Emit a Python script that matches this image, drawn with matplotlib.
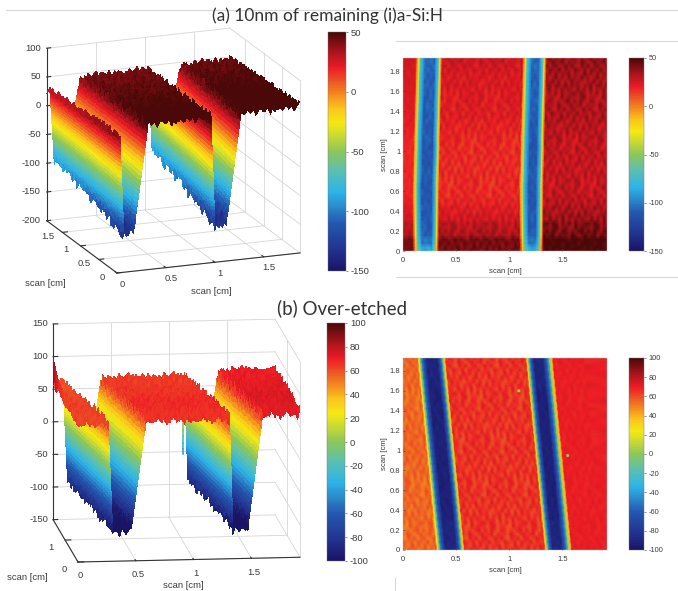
import numpy as np
import matplotlib
matplotlib.use("Agg")
import matplotlib.pyplot as plt
from matplotlib.cm import ScalarMappable
from matplotlib.colors import LinearSegmentedColormap, Normalize
from matplotlib.lines import Line2D
from mpl_toolkits.mplot3d import proj3d

W, H = 678, 591
plt.rcParams["font.family"] = ["Liberation Sans", "DejaVu Sans"]
plt.rcParams["axes.unicode_minus"] = False

# colours, position 0..1 from the bottom
cmap_stops = [(0.0, "#1a1464"), (0.08, "#22308c"), (0.2, "#2458b0"), (0.27, "#2a8ccc"),
              (0.33, "#2cb4e8"), (0.42, "#5cc0b0"), (0.5, "#8cc65a"), (0.56, "#c4d838"),
              (0.62, "#f6e812"), (0.68, "#f9c61c"), (0.74, "#f5891f"), (0.79, "#ec5a25"),
              (0.85, "#ee1c25"), (0.92, "#a8141c"), (1.0, "#4a0808")]
scan_cmap = LinearSegmentedColormap.from_list("scan", cmap_stops, N=256)

# small surface texture table, nm per unit amplitude
rough = np.array([
    [.2, -.5, .9, -.2, .4, -.8, .1, .7, -.4, .3, -.9, .6, -.1],
    [-.6, .3, -.1, .8, -.7, .2, -.3, -.5, .9, -.2, .4, -.6, .7],
    [.5, -.8, .6, .1, -.3, .9, -.6, .2, -.1, -.7, .8, .1, -.4],
    [-.2, .7, -.4, -.9, .5, -.1, .8, -.7, .3, .6, -.5, -.3, .9],
    [.8, -.3, .2, .6, -.8, .4, -.2, .1, -.6, .9, .2, -.7, -.1],
    [-.7, .1, -.6, .3, .9, -.5, .6, -.4, .7, -.2, -.8, .5, .2],
    [.3, .9, -.7, -.1, .2, -.6, -.9, .8, -.3, .4, .1, -.2, -.5],
    [-.4, -.2, .5, .7, -.4, .8, .3, -.8, .2, -.6, .7, -.9, .6],
    [.9, -.6, .1, -.5, .6, -.3, .5, -.1, -.7, .8, -.3, .4, -.8],
    [-.1, .4, -.8, .2, -.1, .7, -.7, .6, .4, -.5, .9, -.4, .3],
    [.6, -.9, .3, -.6, .8, -.2, .2, -.3, -.8, .1, -.1, .7, -.7],
])

# wall shape: 0 is the plateau, 1 the groove floor
wall_fine = [0, .04, .08, .12, .16, .2, .24, .28, .32, .36, .4, .44, .48, .52, .56, .6, .64, .68,
             .72, .76, .8, .84, .88, .92, .96, 1]
wall_heat = [0, .22, .42, .72, .82, .9, 1]

# (a) groove edges at y=0: top, floor, floor, top [cm]
a_grooves = [(.09, .18, .27, .34), (1.095, 1.185, 1.25, 1.325)]
a_shift = [0, 0, 0, 0, 0, 0, 0, 0, 0, .002, .004, .006, .008, .01, .01, .012, .014, .016,
           .018, .02, .022, .024, .026, .028, .03]
a3_grooves = [(.03, .07, .17, .32), (.96, 1.0, 1.12, 1.27)]
a3_stretch = [0, .003, .006, .01, .013, .016, .019, .022, .025, .029, .032, .035, .038, .041,
              .044, .047, .051, .054, .057, .06, .063, .066, .07, .073, .076]
a3_top = [54, 54, 53, 53, 52, 52, 51, 51, 50, 50, 49, 49, 48, 48, 47, 47, 46, 46, 45, 45,
          44, 44, 43, 43, 42]
a3_floor = [-132, -134, -130, -128, -126, -124, -122, -120, -118, -116, -114, -112, -110,
            -108, -106, -105, -104, -102, -100, -99, -98, -96, -95, -94, -92]
a3_seg = [-15, 0, 2]
a3_amp = [8, 10, 10]
a_heat_top = [42, 42, 32, 30, 25, 23, 20, 18, 18, 18, 18, 18, 18, 18, 19, 20, 21, 22, 22,
              23, 23, 24, 24, 25, 26]
a_heat_floor = [-88, -102, -108, -110, -110, -110, -112, -112, -112, -110, -110, -112, -112,
                -112, -110, -110, -110, -110, -108, -108, -108, -108, -108, -106, -106]
a_heat_seg = [0, 0, 10]
a_heat_amp = [3, 8, 10]

# (b)
b_grooves = [(.31, .40, .50, .58), (1.33, 1.41, 1.49, 1.59)]
b_shift = [0, -.007, -.014, -.022, -.029, -.036, -.044, -.051, -.058, -.066, -.073, -.08,
           -.088, -.095, -.102, -.11, -.117, -.124, -.131, -.139, -.146, -.153, -.161,
           -.168, -.175]
b3_grooves = [(.26, .30, .46, .59), (1.31, 1.34, 1.47, 1.6)]
b3_top = [66, 66, 67, 67, 66, 68, 67, 68, 68, 67, 66, 67, 66, 66, 65, 65, 66, 65, 64, 65,
          64, 64, 65, 64, 64]
b3_floor = [-102, -100, -100, -98, -98, -97, -96, -96, -95, -95, -94, -94, -94, -93, -93,
            -92, -92, -92, -91, -91, -90, -90, -90, -90, -88]
b3_seg = [-4, 0, 6]
b3_amp = [9, 10, 12]
b_edge_rise = [0, 0, 0, 0, 0, 0, 0, 0, 0, 0, 0, 0, 0, 2, 3, 4, 5, 6, 8, 11, 14, 18, 22, 27, 30]
b_heat_top = [66, 66, 66, 66, 66, 66, 66, 66, 66, 66, 66, 66, 66, 66, 66, 66, 66, 66, 66, 66,
              66, 66, 66, 66, 66]
b_heat_floor = [-88, -90, -90, -90, -92, -92, -92, -92, -92, -92, -92, -92, -92, -92, -92,
                -92, -92, -92, -92, -92, -92, -90, -90, -90, -90]
b_heat_seg = [-11, 0, 4]
b_heat_amp = [8, 9, 3]
b_defect_x = [1.09, 1.55]
b_defect_y = [1.6, .95]
b_defect_z = [5, 2]
b_spike_levels = [5, -5, -15, -25, -35, -42]

x_ticks = [0, .5, 1, 1.5]
x_labels = ["0", "0.5", "1", "1.5"]
heat_y_ticks = [0, .2, .4, .6, .8, 1, 1.2, 1.4, 1.6, 1.8]
heat_y_labels = ["0", "0.2", "0.4", "0.6", "0.8", "1", "1.2", "1.4", "1.6", "1.8"]
a_z_ticks = [-200, -150, -100, -50, 0, 50, 100]
b_z_ticks = [-150, -100, -50, 0, 50, 100, 150]
a_bar_ticks = [-150, -100, -50, 0, 50]
b_bar_ticks = [-100, -80, -60, -40, -20, 0, 20, 40, 60, 80, 100]
a_y3_ticks = [0, .5, 1, 1.5]
a_y3_labels = ["0", "0.5", "1", "1.5"]
b_y3_ticks = [0, 1]
b_y3_labels = ["0", "1"]

XMAX = 1.92
YMAX = 1.93
XMAX_A3 = 1.87
TICK_GREY = "#3c3c3c"


def px_rect(left, top, right, bottom):
    return [left / W, 1 - bottom / H, (right - left) / W, (bottom - top) / H]


def profile_nodes(grooves, levels, step, xmax):
    xs, shape, seg = [], [], []
    start = 0.0
    for i, (a, b, c, d) in enumerate(grooves):
        plat = np.arange(start, a, step)
        xs += list(plat); shape += [0] * len(plat); seg += [i] * len(plat)
        xs += list(np.linspace(a, b, len(levels))); shape += list(levels); seg += [i] * len(levels)
        floor = np.arange(b + step, c - step / 2, step)
        xs += list(floor); shape += [1] * len(floor); seg += [i] * len(floor)
        xs += list(np.linspace(c, d, len(levels))); shape += list(levels[::-1]); seg += [i + 1] * len(levels)
        start = d + step
    plat = np.append(np.arange(start, xmax - step / 2, step), xmax)
    xs += list(plat); shape += [0] * len(plat); seg += [len(grooves)] * len(plat)
    return np.array(xs), np.array(shape, dtype=float), np.array(seg)


def build_surface(grooves, levels, step, top, floor, shift, seg_levels, amp_top, amp_floor,
                  colour_tex=1.0, xmax=XMAX, stretch=None):
    # colour_tex: how much of the roughness also shows in the colour
    xs, shape, seg = profile_nodes(grooves, levels, step, xmax)
    top, floor, shift = np.repeat(top, 2), np.repeat(floor, 2), np.repeat(shift, 2)
    stretch = np.zeros(len(top)) if stretch is None else np.repeat(stretch, 2)
    ys = np.linspace(0, YMAX, len(top))
    offs = np.array(seg_levels)[seg]
    amps = np.array(amp_top)[seg]
    # the walls stay smooth, only plateau and floor are rough
    keep = np.abs(2 * shape - 1) ** 6
    X = np.zeros((len(ys), len(xs)))
    Y = np.zeros_like(X)
    Z = np.zeros_like(X)
    C = np.zeros_like(X)
    for r in range(len(ys)):
        X[r] = np.clip(xs * (1 + stretch[r]) + shift[r], 0, xmax)
        X[r, 0] = 0
        X[r, -1] = xmax
        Y[r] = ys[r]
        tex = rough[r % 11][(np.arange(len(xs)) + 3 * (r // 11) + 5 * r) % 13]
        base = (top[r] + offs) * (1 - shape) + floor[r] * shape
        bump = tex * (amps * (1 - shape) + amp_floor * shape) * keep
        Z[r] = base + bump
        C[r] = base + colour_tex * bump
    return X, Y, Z, C


def corner_px(ax, x, y, z):
    sx, sy, _ = proj3d.proj_transform(x, y, z, ax.get_proj())
    return ax.transData.transform((sx, sy))


def place_box(ax, zmin, xmax, origin_px, xend_px):
    # fit the square 3d axes so the front x axis lands on the wanted pixels
    target0 = np.array([origin_px[0], H - origin_px[1]], float)
    target1 = np.array([xend_px[0], H - xend_px[1]], float)
    ax.set_position([.1, .1, 300 / W, 300 / H])
    ax.apply_aspect()
    p0 = corner_px(ax, 0, 0, zmin)
    p1 = corner_px(ax, xmax, 0, zmin)
    size = 300 * np.linalg.norm(target1 - target0) / np.linalg.norm(p1 - p0)
    ax.set_position([.1, .1, size / W, size / H])
    ax.apply_aspect()
    p0 = corner_px(ax, 0, 0, zmin)
    dx, dy = target0 - p0
    ax.set_position([.1 + dx / W, .1 + dy / H, size / W, size / H])
    ax.apply_aspect()


def draw_3d(X, Y, Z, C, norm, xmax, zmin, zmax, z_ticks, y_ticks, y_labels, elev, azim, aspect,
            origin_px, xend_px, z_off, x_off, y_off):
    ax = fig.add_subplot(projection="3d", proj_type="ortho")
    ax.computed_zorder = False
    ax.set_axis_off()
    ax.patch.set_visible(False)
    ax.view_init(elev=elev, azim=azim)
    ax.set_box_aspect(aspect)
    ax.set_xlim(0, xmax, view_margin=0)
    ax.set_ylim(0, YMAX, view_margin=0)
    ax.set_zlim(zmin, zmax, view_margin=0)
    place_box(ax, zmin, xmax, origin_px, xend_px)

    grid = dict(color="#d6d6d6", lw=0.6, zorder=0)
    for z in z_ticks:
        ax.plot([0, xmax], [YMAX, YMAX], [z, z], **grid)
        ax.plot([xmax, xmax], [0, YMAX], [z, z], **grid)
    for x in x_ticks:
        ax.plot([x, x], [YMAX, YMAX], [zmin, zmax], **grid)
        ax.plot([x, x], [0, YMAX], [zmin, zmin], **grid)
    for y in y_ticks:
        ax.plot([0, xmax], [y, y], [zmin, zmin], **grid)
        ax.plot([xmax, xmax], [y, y], [zmin, zmax], **grid)

    dark = dict(color="#333333", lw=0.8, zorder=0.5)
    ax.plot([0, 0], [YMAX, YMAX], [zmin, zmax], **dark)
    ax.plot([0, xmax], [0, 0], [zmin, zmin], **dark)
    ax.plot([0, 0], [0, YMAX], [zmin, zmin], **dark)
    for z in z_ticks:
        ax.plot([0, .04], [YMAX, YMAX], [z, z], **dark)
    for x in x_ticks:
        ax.plot([x, x], [0, .05], [zmin, zmin], **dark)
    for y in y_ticks:
        ax.plot([0, .05], [y, y], [zmin, zmin], **dark)

    ax.plot_surface(X, Y, Z, facecolors=scan_cmap(norm(C)), rstride=1, cstride=1, shade=False,
                    antialiased=False, linewidth=0, zorder=1)

    for z in z_ticks:
        p = corner_px(ax, 0, YMAX, z)
        fig.text((p[0] + z_off[0]) / W, (p[1] + z_off[1]) / H, str(z), ha="right", va="center",
                 fontsize=6.8, color=TICK_GREY)
    for x, s in zip(x_ticks, x_labels):
        p = corner_px(ax, x, 0, zmin)
        fig.text((p[0] + x_off[0]) / W, (p[1] + x_off[1]) / H, s, ha="center", va="center",
                 fontsize=6.8, color=TICK_GREY)
    for y, s in zip(y_ticks, y_labels):
        p = corner_px(ax, 0, y, zmin)
        fig.text((p[0] + y_off[0]) / W, (p[1] + y_off[1]) / H, s, ha="center", va="center",
                 fontsize=6.8, color=TICK_GREY)
    return ax


def draw_heat(rect, X, Y, Z, norm):
    ax = fig.add_axes(px_rect(*rect))
    ax.pcolormesh(X, Y, Z, shading="gouraud", cmap=scan_cmap, norm=norm, rasterized=True)
    ax.set_xlim(0, XMAX)
    ax.set_ylim(0, YMAX)
    ax.set_xticks(x_ticks, x_labels)
    ax.set_yticks(heat_y_ticks, heat_y_labels)
    ax.tick_params(labelsize=5.5, length=1.5, width=0.4, pad=2, colors=TICK_GREY, direction="in")
    ax.tick_params(axis="x", pad=4)
    for side in ax.spines.values():
        side.set_linewidth(0.3)
        side.set_color("#bbbbbb")
    ax.set_xlabel("scan [cm]", fontsize=5.5, color=TICK_GREY, labelpad=3)
    ax.set_ylabel("scan [cm]", fontsize=5.5, color=TICK_GREY, labelpad=1)
    return ax


def draw_bar(rect, norm, ticks, size):
    cax = fig.add_axes(px_rect(*rect))
    bar = fig.colorbar(ScalarMappable(norm=norm, cmap=scan_cmap), cax=cax, ticks=ticks)
    bar.ax.tick_params(labelsize=size, length=1.5, width=0.4, pad=2, colors=TICK_GREY)
    bar.outline.set_linewidth(0.3)
    bar.outline.set_edgecolor("#777777")


def label_px(x, y, text, **kw):
    fig.text(x / W, 1 - y / H, text, ha="center", va="center", **kw)


fig = plt.figure(figsize=(W / 100, H / 100), dpi=100)
fig.patch.set_facecolor("white")

# separator rules left over from the source page
for x0, x1, y0, y1 in [(6, 678, 10, 10), (396, 678, 41, 41), (396, 678, 277, 277), (395, 395, 578, 591)]:
    fig.add_artist(Line2D([x0 / W, x1 / W], [1 - y0 / H, 1 - y1 / H], color="#d9d9d9", lw=0.8))

# (a) 3d
norm_a = Normalize(-150, 50)
X, Y, Z, C = build_surface(a3_grooves, wall_fine, .03, a3_top, a3_floor, np.zeros(25), a3_seg, a3_amp, 14,
                           colour_tex=.3, xmax=XMAX_A3, stretch=a3_stretch)
draw_3d(X, Y, Z, C, norm_a, XMAX_A3, -200, 100, a_z_ticks, a_y3_ticks, a_y3_labels, 16.6, -111,
        (196, 196, 180), (117, 273), (300, 253), (-6, 0), (5, -11), (-15, -4))
draw_bar((328, 32, 346, 271), norm_a, a_bar_ticks, 6.8)
label_px(211, 292, "scan [cm]", fontsize=6.8, color=TICK_GREY)
label_px(45, 283, "scan [cm]", fontsize=6.8, color=TICK_GREY)

# (a) map
X, Y, Z, C = build_surface(a_grooves, wall_heat, .03, a_heat_top, a_heat_floor, a_shift,
                           a_heat_seg, a_heat_amp, 6)
draw_heat((403, 58, 607, 251), X, Y, Z, norm_a)
draw_bar((629, 58, 644, 251), norm_a, a_bar_ticks, 5.3)

# (b) 3d
norm_b = Normalize(-100, 100)
X, Y, Z, C = build_surface(b3_grooves, wall_fine, .03, b3_top, b3_floor, b_shift, b3_seg, b3_amp, 12,
                           colour_tex=.2)
rise = np.repeat(b_edge_rise, 2)[:, None]
Z[:, :5] += rise
C[:, :5] += rise
ax_b = draw_3d(X, Y, Z, C, norm_b, XMAX, -150, 150, b_z_ticks, b_y3_ticks, b_y3_labels, 11, -96.4,
               (223, 223, 199), (78, 562), (300, 558), (-5, 0), (2, -14), (-14, -7))
for z0, z1 in zip(b_spike_levels[:-1], b_spike_levels[1:]):
    ax_b.plot([b_defect_x[0]] * 2, [b_defect_y[0]] * 2, [z0, z1], lw=1.2, zorder=2,
              color=scan_cmap(norm_b((z0 + z1) / 2)))
draw_bar((327, 323, 345, 561), norm_b, b_bar_ticks, 6.8)
label_px(183, 586, "scan [cm]", fontsize=6.8, color=TICK_GREY)
label_px(27, 577, "scan [cm]", fontsize=6.8, color=TICK_GREY)

# (b) map
X, Y, Z, C = build_surface(b_grooves, wall_heat, .03, b_heat_top, b_heat_floor, b_shift,
                           b_heat_seg, b_heat_amp, 4)
ax_map_b = draw_heat((403, 358, 607, 550), X, Y, Z, norm_b)
ax_map_b.scatter(b_defect_x, b_defect_y, c=b_defect_z, s=5, cmap=scan_cmap, norm=norm_b, linewidths=0)
draw_bar((629, 358, 644, 550), norm_b, b_bar_ticks, 5.3)

label_px(327, 16, "(a) 10nm of remaining (i)a-Si:H", fontsize=12.5, family="Lato", color="#333333")
label_px(342, 308, "(b) Over-etched", fontsize=13.5, family="Lato", color="#333333")

fig.savefig("out.png", dpi=100)
